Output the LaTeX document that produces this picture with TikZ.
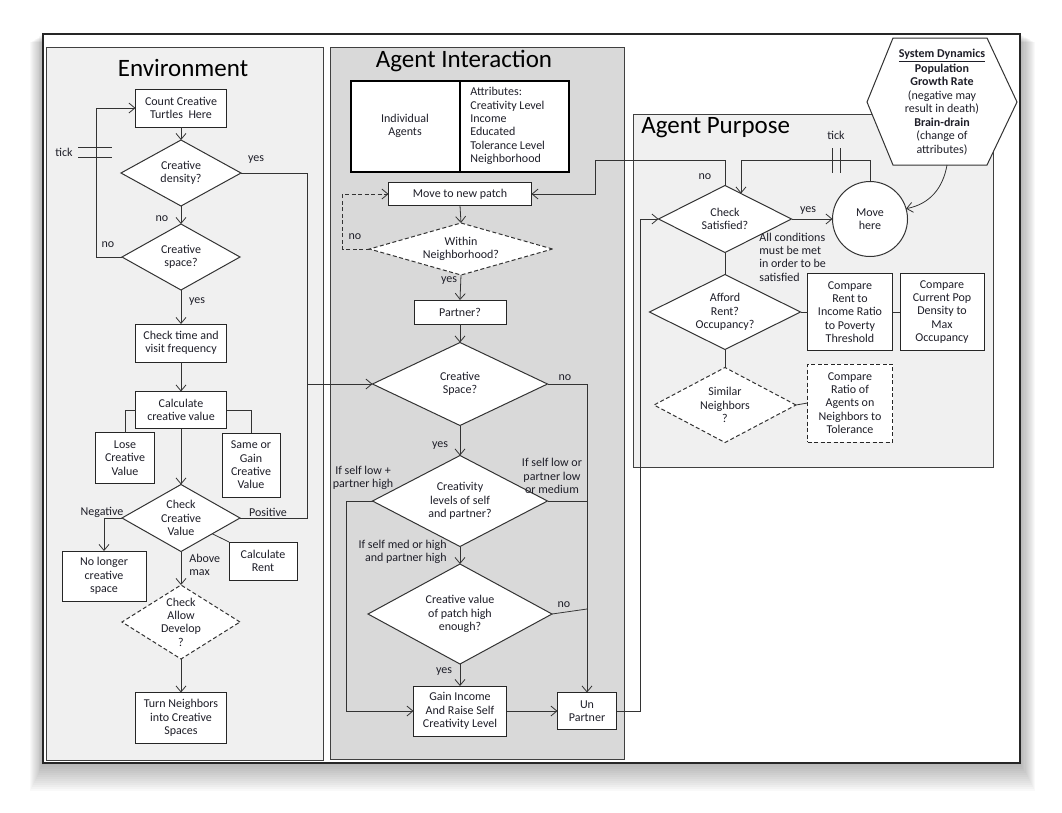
\documentclass[tikz,border=0pt]{standalone}
\usepackage{fontspec}
\setmainfont{Carlito}
\usetikzlibrary{shapes.geometric,arrows.meta,calc}
\definecolor{envgray}{HTML}{F0F0F0}
\definecolor{intgray}{HTML}{D9D9D9}
\definecolor{txt}{HTML}{1E1E28}
\begin{document}
\begin{tikzpicture}[x=1pt,y=-1pt,
  font=\fontsize{12}{13.3}\selectfont, text=txt,
  every node/.style={inner sep=1pt},
  line width=0.8pt, draw=black!80,
  bx/.style 2 args={rectangle, draw=black!85, fill=white, line width=1pt, minimum width=#1, minimum height=#2, align=center, outer sep=0pt},
  dm/.style n args={3}{diamond, draw=black!80, fill=white, line width=1pt, minimum width=#1, minimum height=#2, aspect=#3, inner sep=0pt, outer sep=0pt, align=center},
  dsh/.style={dash pattern=on 4pt off 2.5pt},
  arr/.style={-{Straight Barb[length=6pt,width=10pt]}},
  lbl/.style={align=center},
  panel/.style={draw=black!75, line width=0.9pt},
  ttl/.style={font=\fontsize{25}{30}\selectfont, text=black}
]
\useasboundingbox (0,0) rectangle (1062,812);
% shadow
\foreach \i in {1,...,14} {
  \fill[black, opacity=0.022] (43-\i*0.9, 34+\i*0.6) rectangle (1020+\i*1.1, 763+\i*2.0);
}
\draw[black!85, line width=1.6pt, fill=white] (43,34) rectangle (1020,763);
% panels
\draw[panel, fill=envgray] (46,47) rectangle (323,760);
\draw[panel, fill=intgray] (330,47) rectangle (624,759);
\draw[panel, fill=envgray] (633,114) rectangle (993,467);
\node[ttl] (tenv) at (183,68) {Environment};
\node[ttl] (tai) at (464,61) {Agent Interaction};
\node[ttl, anchor=west] (tap) at (640,128) {Agent Purpose};

% ---------------- Environment ----------------
\node[bx={91}{38}] (count) at (181,108) {Count Creative\\Turtles~ Here};
\node[dm={120}{66}{1.82}] (cd) at (181,173) {Creative\\density?};
\node[dm={118}{66}{1.79}] (csd) at (181,257) {Creative\\space?};
\node[bx={91}{38}] (ctv) at (181,343) {Check time and\\visit frequency};
\node[bx={91}{37}] (calc) at (181,410) {Calculate\\creative value};
\node[bx={59}{51}] (lose) at (125,458) {Lose\\Creative\\Value};
\node[bx={58}{64}] (same) at (251,465) {Same or\\Gain\\Creative\\Value};
\node[dm={118}{67}{1.76}] (ccv) at (181,518) {Check\\Creative\\Value};
\node[bx={84}{50}] (nl) at (104,576) {No longer\\creative\\space};
\node[bx={68}{38}] (rent) at (263,561) {Calculate\\Rent};
\node[dm={118}{74}{1.6}, dsh] (cad) at (181,622) {};
\node[lbl] (cadt) at (181,622) {Check\\Allow\\Develop\\?};
\node[bx={91}{51}] (tn) at (181,718) {Turn Neighbors\\into Creative\\Spaces};

\draw[arr] (count.south) -- (cd.north);
\draw[arr] (cd.south) -- (csd.north);
\node[lbl] (lno1) at (162,219) {no};
\draw[arr] (csd.west) -- ++(-26,0) |- (count.west);
\coordinate (tk1a) at (78,147); \coordinate (tk1b) at (112,147);
\coordinate (tk2a) at (78,157); \coordinate (tk2b) at (112,157);
\draw (tk1a) -- (tk1b); \draw (tk2a) -- (tk2b);
\node[lbl] (ltick1) at (64,152) {tick};
\node[lbl] (lno2) at (108,245) {no};
\coordinate (r2) at (307,518);
\coordinate (r3) at (307,384);
\draw (cd.east) -| (r2) -- (ccv.east);
\node[lbl] (lyes1) at (256,160) {yes};
\draw[arr] (csd.south) -- (ctv.north);
\node[lbl] (lyes2) at (197,302) {yes};
\draw[arr] (ctv.south) -- (calc.north);
\draw (calc.west) -| (lose.north);
\draw (calc.east) -| (same.north);
\draw[arr] (calc.south) -- (ccv.north);
\draw[arr] (ccv.west) -| (nl.north);
\node[lbl] (lneg) at (102,512) {Negative};
\node[lbl] (lpos) at (268,512) {Positive};
\path (ccv.east) -- (ccv.south) coordinate[pos=0.47] (ccvse);
\draw (ccvse) -- (rent.north west);
\draw[arr] (ccv.south) -- (cad.north);
\node[align=left, anchor=west] (labove) at (188,565) {Above\\max};
\draw[arr] (cad.south) -- (tn.north);

% ---------------- Agent Interaction ----------------
\node[draw=black, line width=2.2pt, fill=white, minimum width=218, minimum height=91, inner sep=0pt, outer sep=0pt] (tbl) at (460,126.5) {};
\draw[line width=1.4pt, black] (tbl.north) -- (tbl.south);
\node[lbl] (ia) at (405,126) {Individual\\Agents};
\node[align=left, anchor=west] (attr) at (469,126) {Attributes:\\Creativity Level\\Income\\Educated\\Tolerance Level\\Neighborhood};

\node[bx={143}{23}] (mv) at (460,194) {Move to new patch};
\node[dm={183}{52}{3.5}, dsh] (wn) at (461,249) {Within\\Neighborhood?};
\node[bx={92}{24}] (pt) at (460,312) {Partner?};
\node[dm={175}{83}{2.1}] (csp) at (460,384) {Creative\\Space?};
\node[dm={175}{91}{1.92}] (cl) at (460,501) {Creativity\\levels of self\\and partner?};
\node[dm={184}{100}{1.84}] (cv) at (460,614) {Creative value\\of patch high\\enough?};
\node[bx={93}{50}] (gi) at (460,711) {Gain Income\\And Raise Self\\Creativity Level};
\node[bx={59}{37}] (up) at (587,711) {Un\\Partner};

\draw[arr] (r3) -- (csp.west);
\draw[arr] (mv.south) -- (wn.north);
\draw[arr, dsh] (wn.west) -- ++(-27,0) |- (mv.west);
\node[lbl] (lno3) at (355,237) {no};
\draw[arr] (wn.south) -- (pt.north);
\node[lbl] (lyes3) at (449,281) {yes};
\draw[arr] (pt.south) -- (csp.north);
\draw[arr] (csp.south) -- (cl.north);
\node[lbl] (lyes4) at (440,446) {yes};
\draw[arr] (cl.south) -- (cv.north);
\node[align=right, anchor=east] (lmed) at (448,552) {If self med or high\\and partner high};
\draw[arr] (cv.south) -- (gi.north);
\node[lbl] (lyes5) at (444,672) {yes};
\draw[arr] (cl.west) -- ++(-26,0) |- (gi.west);
\node[lbl] (llowp) at (363,478) {If self low +\\partner high};
\draw[arr] (csp.east) -| (up.north);
\node[lbl] (lno4) at (565,378) {no};
\draw (cl.east) -- (cl.east -| up.north);
\node[lbl] (llow) at (552,476) {If self low or\\partner low\\or medium};
\draw (cv.east) -- ($(cv.east -| up.north)+(0,-5)$);
\node[lbl] (lno5) at (564,605) {no};
\draw[arr] (gi.east) -- (up.west);

% ---------------- Agent Purpose ----------------
\node[dm={133}{67}{1.99}] (chk) at (725,219) {Check\\Satisfied?};
\node[circle, draw=black!80, fill=white, line width=1pt, minimum size=75, inner sep=0pt, outer sep=0pt, align=center] (mh) at (870,219) {Move\\here};
\node[dm={151}{75}{2.0}] (afr) at (725,312) {Afford\\Rent?\\Occupancy?};
\node[bx={85}{77}] (crr) at (850,312) {Compare\\Rent to\\Income Ratio\\to Poverty\\Threshold};
\node[bx={84}{77}] (ccp) at (942,312) {Compare\\Current Pop\\Density to\\Max\\Occupancy};
\node[dm={142}{75}{1.9}, dsh] (sim) at (725,405) {Similar\\Neighbors\\?};
\node[bx={85}{78}, dsh] (cra) at (850,403) {Compare\\Ratio of\\Agents on\\Neighbors to\\Tolerance};

\draw[arr] (up.east) -- ++(24,0) |- (chk.west);
\draw[arr] (chk.east) -- (mh.west);
\node[lbl] (lyes6) at (808,211) {yes};
\path (chk.north) -- (chk.east) coordinate[pos=0.24] (chkin);
\draw[arr] (mh.north) -- ++(0,-21) -| (chkin);
\coordinate (tk3a) at (832,148); \coordinate (tk3b) at (832,173);
\coordinate (tk4a) at (840,148); \coordinate (tk4b) at (840,173);
\draw (tk3a) -- (tk3b); \draw (tk4a) -- (tk4b);
\node[lbl] (ltick2) at (836,135) {tick};
\coordinate (nj) at (595,160);
\draw[arr] (chk.north) |- (nj) |- (mv.east);
\node[lbl] (lno6) at (705,177) {no};
\node[align=left, anchor=west] (lall) at (758,257) {All conditions\\must be met\\in order to be\\satisfied};
\draw (chk.south) -- (afr.north);
\draw (afr.east) -- (crr.west);
\draw (crr.east) -- (ccp.west);
\draw (afr.south) -- (sim.north);
\draw (sim.east) -- (cra.west);

% ---------------- System Dynamics ----------------
\draw[black!80, line width=1pt, fill=white] (867,102) -- (893,38) -- (987,38) -- (1017,102) -- (987,165) -- (893,165) -- cycle;
\node[lbl, font=\fontsize{12}{13.5}\selectfont] (sd) at (942,102) {\underline{\textbf{System Dynamics}}\\[1pt]\textbf{Population}\\\textbf{Growth Rate}\\(negative may\\result in death)\\\textbf{Brain-drain}\\(change of\\attributes)};
\coordinate (hexb) at (947,165);
\draw[arr] (hexb) .. controls (943,188) and (930,204) .. (mh.16);
\end{tikzpicture}
\end{document}
